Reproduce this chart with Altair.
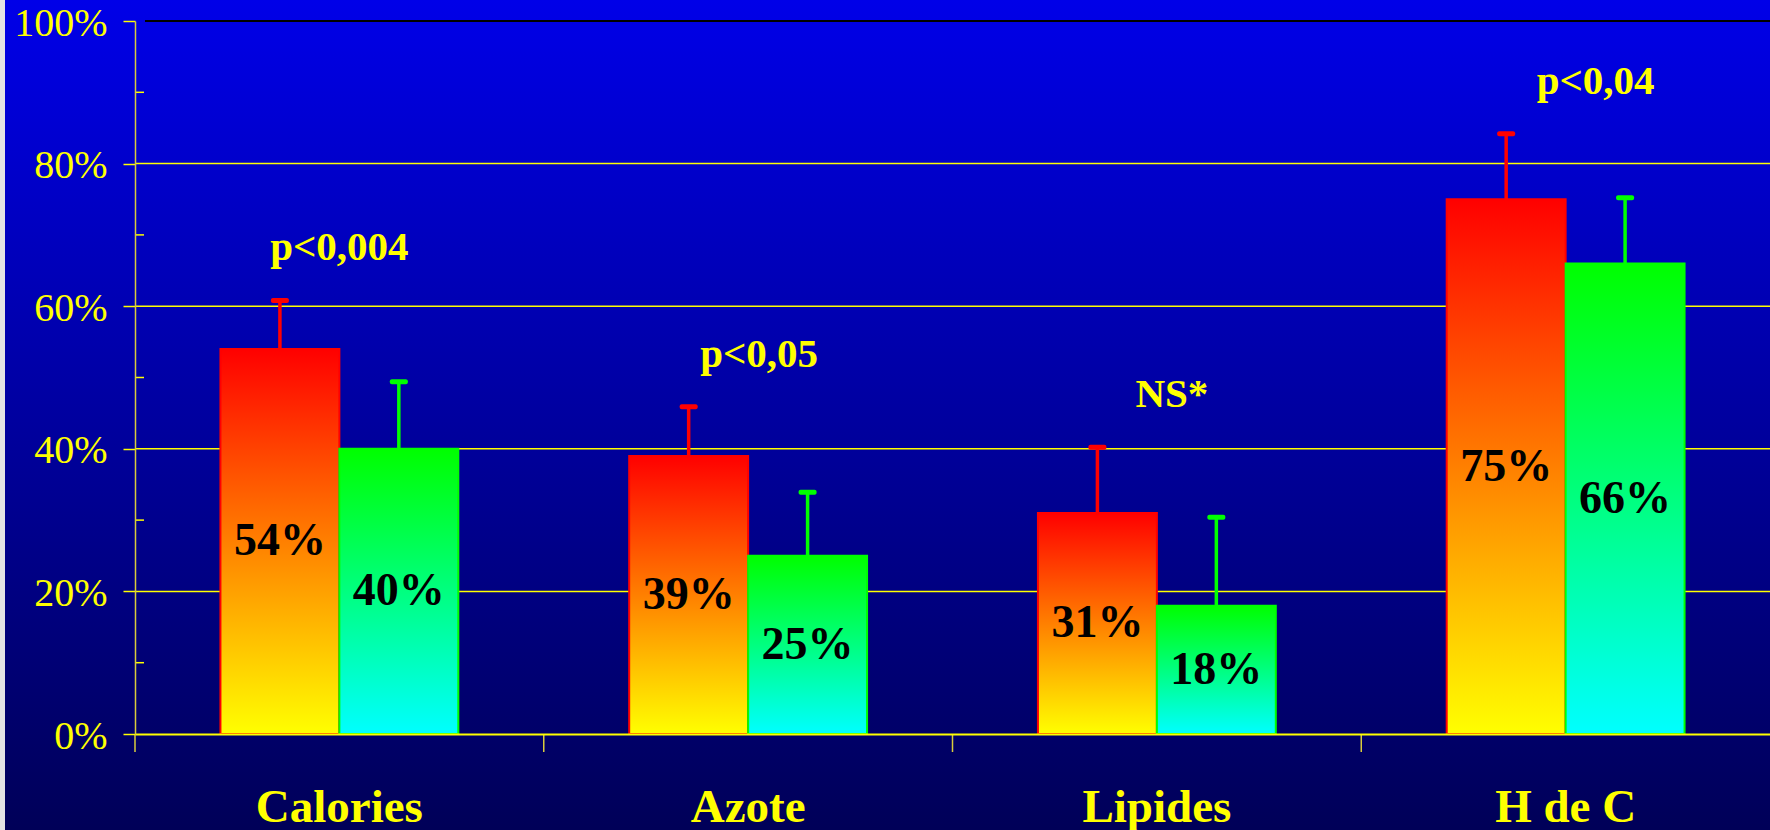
import altair as alt
import pandas as pd

# ---- data -------------------------------------------------------------
CATEGORIES = ["Calories", "Azote", "Lipides", "H de C"]
SERIES = ["G1", "G2"]
VALUES_G1 = [54, 39, 31, 75]
VALUES_G2 = [40, 25, 18, 66]
ERR_G1 = [6.8, 6.9, 9.2, 9.2]
ERR_G2 = [9.4, 8.9, 12.4, 9.2]
P_LABELS = ["p<0,004", "p<0,05", "NS*", "p<0,04"]
Y_TICKS = [0, 20, 40, 60, 80, 100]
Y_MINOR = [10, 30, 50, 70, 90]

# ---- layout -----------------------------------------------------------
W, H = 1635, 713
PAD_L, PAD_T, PAD_B = 135, 21, 96
P_NUDGE = [0, 11, 15, 30]          # horizontal shift of each p-label, px
YELLOW = "#FFFF00"
SERIF = "Liberation Serif"

rows = []
for i, cat in enumerate(CATEGORIES):
    for s, vals, errs in ((SERIES[0], VALUES_G1, ERR_G1), (SERIES[1], VALUES_G2, ERR_G2)):
        rows.append({
            "cat": cat, "series": s, "value": vals[i],
            "upper": vals[i] + errs[i], "label": f"{vals[i]}%",
        })
df = pd.DataFrame(rows)

pdf = pd.DataFrame({
    "cat": CATEGORIES,
    "p": P_LABELS,
    "top": [max(VALUES_G1[i] + ERR_G1[i], VALUES_G2[i] + ERR_G2[i]) for i in range(len(CATEGORIES))],
})

x_scale = alt.Scale(domain=CATEGORIES, paddingInner=0, paddingOuter=0)
y_scale = alt.Scale(domain=[0, 100], nice=False, zero=True)
off_scale = alt.Scale(domain=SERIES, paddingInner=0, paddingOuter=0.7185)
series_color = alt.Scale(domain=SERIES, range=["#FF0000", "#00FF00"])

y_axis = alt.Axis(
    values=Y_TICKS, labelExpr="datum.value + '%'", title=None, grid=False,
    labelFont=SERIF, labelFontSize=40, labelColor=YELLOW, labelPadding=16,
    labelBaseline="middle", labelOffset=2,
    tickColor=YELLOW, tickSize=12, tickWidth=1.5,
    domainColor="#D8CC3C", domainWidth=1.5, zindex=1,
)
x_axis = alt.Axis(
    title=None, ticks=False, tickSize=0, labelAngle=0, labelLimit=400,
    labelFont=SERIF, labelFontWeight="bold", labelFontSize=47, labelColor=YELLOW,
    labelPadding=87, labelBaseline="alphabetic",
    domainColor=YELLOW, domainWidth=2, zindex=1,
)


def xenc(**kw):
    return alt.X("cat:N", sort=CATEGORIES, scale=x_scale, axis=x_axis, **kw)


def yenc(field):
    return alt.Y(field, scale=y_scale, axis=y_axis)


OFFSET = alt.XOffset("series:N", scale=off_scale)


def grad(top, bottom):
    return alt.LinearGradient(
        gradient="linear",
        stops=[alt.GradientStop(color=top, offset=0), alt.GradientStop(color=bottom, offset=1)],
        x1=0, x2=0, y1=0, y2=1,
    )


one = pd.DataFrame({"k": [0]})

# full-frame blue backdrop
backdrop = alt.Chart(one).mark_rect(fill=grad("#0000E8", "#000056")).encode(
    x=alt.value(-PAD_L), x2=alt.value(W + 20),
    y=alt.value(-PAD_T), y2=alt.value(H + PAD_B + 10),
)
edge = alt.Chart(one).mark_rect(fill="#E4E4E4").encode(
    x=alt.value(-PAD_L), x2=alt.value(-PAD_L + 5),
    y=alt.value(-PAD_T), y2=alt.value(H + PAD_B + 10),
)

grid = alt.Chart(pd.DataFrame({"v": Y_TICKS[1:-1]})).mark_rule(
    color=YELLOW, strokeWidth=1.5
).encode(y=yenc("v:Q"), x=alt.value(0), x2=alt.value(W))

top_line = alt.Chart(pd.DataFrame({"v": Y_TICKS[-1:]})).mark_rule(
    color="#000000", strokeWidth=2
).encode(y=yenc("v:Q"), x=alt.value(10), x2=alt.value(W))

minor = alt.Chart(pd.DataFrame({"v": Y_MINOR})).mark_rule(
    color=YELLOW, strokeWidth=1.5
).encode(y=yenc("v:Q"), x=alt.value(0), x2=alt.value(9))

# ticks at category boundaries, below the baseline
bounds = alt.Chart(pdf).mark_rule(color="#D8CC3C", strokeWidth=1.5).encode(
    x=xenc(bandPosition=0), y=alt.value(H), y2=alt.value(H + 18),
)

bars_g1 = alt.Chart(df).transform_filter(alt.datum.series == SERIES[0]).mark_bar(
    fill=grad("#FF0000", "#FFFF00"), stroke="#FF0000", strokeWidth=2
).encode(x=xenc(), xOffset=OFFSET, y=yenc("value:Q"))

bars_g2 = alt.Chart(df).transform_filter(alt.datum.series == SERIES[1]).mark_bar(
    fill=grad("#00FF00", "#00FFFF"), stroke="#00FF00", strokeWidth=2
).encode(x=xenc(), xOffset=OFFSET, y=yenc("value:Q"))

err = alt.Chart(df).mark_rule(strokeWidth=3.5).encode(
    x=xenc(), xOffset=OFFSET, y=yenc("value:Q"), y2="upper:Q",
    color=alt.Color("series:N", scale=series_color, legend=None),
)
caps = alt.Chart(df).mark_tick(thickness=5, size=18, opacity=1, cornerRadius=2).encode(
    x=xenc(), xOffset=OFFSET, y=yenc("upper:Q"),
    color=alt.Color("series:N", scale=series_color, legend=None),
)

values = alt.Chart(df).transform_calculate(mid="datum.value / 2").mark_text(
    font=SERIF, fontWeight="bold", fontSize=46, color="#000000",
    align="center", baseline="middle",
).encode(x=xenc(), xOffset=OFFSET, y=yenc("mid:Q"), text="label:N")

p_layers = []
for i, cat in enumerate(CATEGORIES):
    p_layers.append(
        alt.Chart(pdf).transform_filter(alt.datum.cat == cat).mark_text(
            font=SERIF, fontWeight="bold", fontSize=41, color=YELLOW,
            align="center", baseline="middle", dx=P_NUDGE[i], dy=-52,
        ).encode(x=xenc(), y=yenc("top:Q"), text="p:N")
    )

chart = alt.layer(
    backdrop, edge, grid, top_line, minor, bounds,
    bars_g1, bars_g2, err, caps, values, *p_layers,
).properties(
    width=W, height=H,
    autosize=alt.AutoSizeParams(type="none"),
    padding={"left": PAD_L, "top": PAD_T, "right": 0, "bottom": PAD_B},
    background="#000056",
).configure_view(stroke="transparent")

chart.save("out.html", embed_options={"renderer": "svg", "actions": False})
